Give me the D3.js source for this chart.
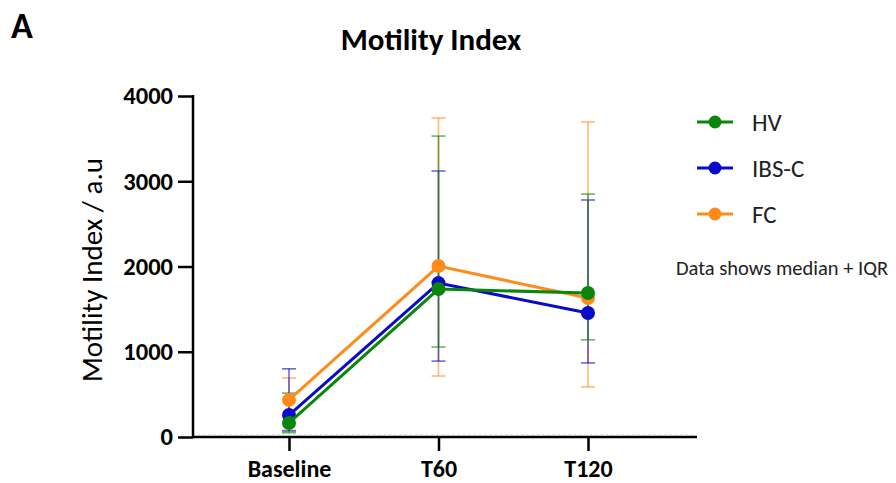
<!DOCTYPE html>
<html><head><meta charset="utf-8">
<script src="https://cdn.jsdelivr.net/npm/d3@7"></script>
<style>body{margin:0;background:#fff}svg{display:block}text{font-family:Calibri,Carlito,Lato,"Open Sans",sans-serif}</style>
</head><body>
<script>
const categories = ["Baseline", "T60", "T120"];
const seriesNames = ["HV", "IBS-C", "FC"];
const colors = ["#0a870a", "#0a0ac8", "#ff8c1a"];
const hvMedian = [165, 1735, 1690];
const hvQ1 = [50, 1055, 1140];
const hvQ3 = [515, 3530, 2850];
const ibsMedian = [258, 1805, 1455];
const ibsQ1 = [70, 890, 868];
const ibsQ3 = [800, 3120, 2780];
const fcMedian = [435, 2005, 1630];
const fcQ1 = [80, 715, 588];
const fcQ3 = [692, 3742, 3695];
const yTicks = [0, 1000, 2000, 3000, 4000];

const series = [
  {name: seriesNames[0], color: colors[0], med: hvMedian, lo: hvQ1, hi: hvQ3},
  {name: seriesNames[1], color: colors[1], med: ibsMedian, lo: ibsQ1, hi: ibsQ3},
  {name: seriesNames[2], color: colors[2], med: fcMedian, lo: fcQ1, hi: fcQ3}
];

const W = 896, H = 483;
const svg = d3.select("body").append("svg").attr("width", W).attr("height", H);

const y = d3.scaleLinear().domain([0, 4000]).range([437, 96]);
const x = d3.scalePoint().domain(categories).range([289, 588]);
const axisX = 193;
const FONT = "Calibri,Carlito,Lato,sans-serif";

// Panel letter & title
svg.append("text").attr("x", 11).attr("y", 38).attr("font-size", 36).attr("font-weight", "bold").text("A");
svg.append("text").attr("x", 431).attr("y", 50).attr("text-anchor", "middle").attr("font-size", 31).attr("font-weight", "bold").text("Motility Index");

// Y axis
const yAxis = svg.append("g").attr("transform", `translate(${axisX},0)`)
  .call(d3.axisLeft(y).tickValues(yTicks).tickSize(15).tickPadding(5).tickFormat(d3.format("d")));
yAxis.select(".domain").attr("stroke", "#000").attr("stroke-width", 2.5).attr("d", `M0,${y(4000)-1}V${y(0)}`);
yAxis.selectAll(".tick line").attr("stroke", "#000").attr("stroke-width", 2.5);
yAxis.selectAll(".tick text").attr("font-size", 24.5).attr("font-weight", "bold").attr("fill", "#000")
  .style("font-family", FONT);

// X axis
const xAxisG = svg.append("g").attr("transform", `translate(0,${y(0)})`);
xAxisG.append("line").attr("x1", axisX).attr("x2", 697).attr("stroke", "#000").attr("stroke-width", 2.5);
// minor ticks
const minor = d3.range(axisX + 6, 697, 5.3);
xAxisG.selectAll("line.minor").data(minor).join("line").attr("class", "minor")
  .attr("x1", d => d).attr("x2", d => d).attr("y1", -1).attr("y2", -3).attr("stroke", "#bbb").attr("stroke-width", 0.8);
const xa = svg.append("g").attr("transform", `translate(0,${y(0)})`)
  .call(d3.axisBottom(x).tickSize(14).tickPadding(8));
xa.select(".domain").remove();
xa.selectAll(".tick line").attr("stroke", "#000").attr("stroke-width", 2.5);
xa.selectAll(".tick text").attr("font-size", 24).attr("font-weight", "bold").attr("fill", "#000")
  .attr("y", 39.5).attr("dy", 0)
  .style("font-family", FONT);

// Y label
svg.append("text").attr("transform", `translate(102,270) rotate(-90)`).attr("text-anchor", "middle")
  .attr("font-size", 29).text("Motility Index / a.u");

// draw order: FC, IBS-C, HV
const order = [2, 1, 0];
order.forEach(i => {
  const s = series[i];
  const g = svg.append("g");
  categories.forEach((c, j) => {
    const cx = x(c);
    g.append("line").attr("x1", cx).attr("x2", cx).attr("y1", y(s.lo[j])).attr("y2", y(s.hi[j]))
      .attr("stroke", s.color).attr("stroke-width", 1.6).attr("opacity", 0.6);
    [s.lo[j], s.hi[j]].forEach(v => {
      g.append("line").attr("x1", cx - 7).attr("x2", cx + 7).attr("y1", y(v)).attr("y2", y(v))
        .attr("stroke", s.color).attr("stroke-width", 1.6).attr("opacity", 0.6);
    });
  });
});
order.forEach(i => {
  const s = series[i];
  const line = d3.line().x((d, j) => x(categories[j])).y(d => y(d));
  svg.append("path").attr("d", line(s.med)).attr("fill", "none").attr("stroke", s.color).attr("stroke-width", 3);
  svg.selectAll(null).data(s.med).join("circle")
    .attr("cx", (d, j) => x(categories[j])).attr("cy", d => y(d)).attr("r", 7).attr("fill", s.color);
});

// Legend
const legY = [122, 168, 214];
series.forEach((s, i) => {
  const g = svg.append("g").attr("transform", `translate(697,${legY[i]})`);
  g.append("line").attr("x1", 0).attr("x2", 36).attr("stroke", s.color).attr("stroke-width", 3);
  g.append("circle").attr("cx", 18).attr("cy", 0).attr("r", 6.5).attr("fill", s.color);
  g.append("text").attr("x", 55).attr("y", 8.5).attr("font-size", 25).attr("fill", "#222").text(s.name);
});
svg.append("text").attr("x", 676).attr("y", 275).attr("font-size", 20.5).attr("fill", "#222").text("Data shows median + IQR");
</script>
</body></html>
